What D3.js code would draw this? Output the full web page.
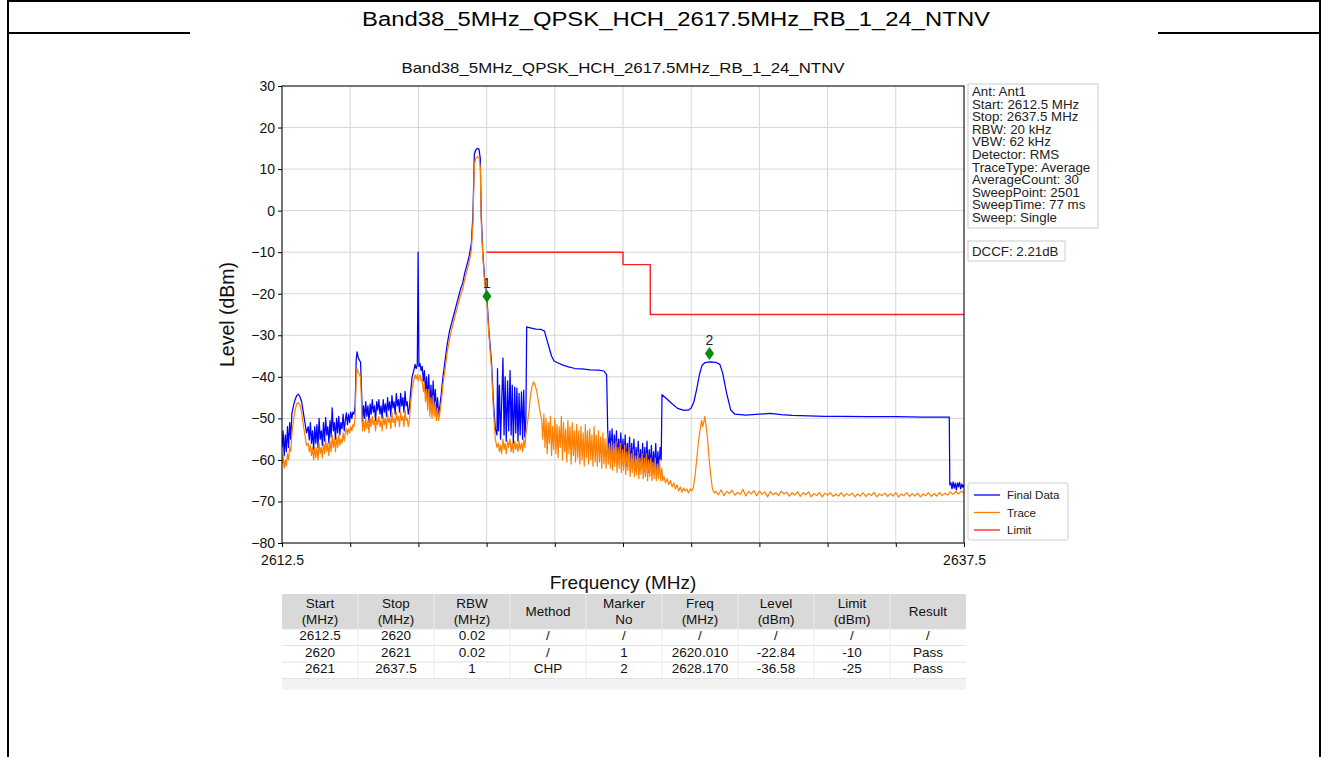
<!DOCTYPE html>
<html><head><meta charset="utf-8">
<script src="https://cdn.jsdelivr.net/npm/d3@7"></script>
<style>
body{margin:0;background:#fff;}
svg text{font-family:"Liberation Sans",Arial,Helvetica,sans-serif;}
</style></head>
<body>
<svg id="c" width="1329" height="757"></svg>
<script>
const pageTitle = "Band38_5MHz_QPSK_HCH_2617.5MHz_RB_1_24_NTNV";
const chartTitle = "Band38_5MHz_QPSK_HCH_2617.5MHz_RB_1_24_NTNV";
const xDomain = [2612.5, 2637.5];
const yDomain = [-80, 30];
const xTickValues = [2612.5,2615,2617.5,2620,2622.5,2625,2627.5,2630,2632.5,2635,2637.5];
const xTickLabels = ["2612.5","","","","","","","","","","2637.5"];
const yTickValues = [30,20,10,0,-10,-20,-30,-40,-50,-60,-70,-80];
const xLabel = "Frequency (MHz)";
const yLabel = "Level (dBm)";
const seriesNames = ["Final Data","Trace","Limit"];
const seriesColors = ["#0000ff","#ff8000","#ff2020"];
const infoLines = ["Ant: Ant1","Start: 2612.5 MHz","Stop: 2637.5 MHz","RBW: 20 kHz","VBW: 62 kHz","Detector: RMS","TraceType: Average","AverageCount: 30","SweepPoint: 2501","SweepTime: 77 ms","Sweep: Single"];
const dccfText = "DCCF: 2.21dB";
const dccf = 2.21;
const limitFreq = [2620, 2625, 2625, 2626, 2626, 2637.5];
const limitLevel = [-10, -10, -13, -13, -25, -25];
const markerNo = [1, 2];
const markerFreq = [2620.010, 2628.170];
const markerLevel = [-22.84, -36.58];
const tableHeader = [["Start","(MHz)"],["Stop","(MHz)"],["RBW","(MHz)"],["Method"],["Marker","No"],["Freq","(MHz)"],["Level","(dBm)"],["Limit","(dBm)"],["Result"]];
const tableRows = [
 ["2612.5","2620","0.02","/","/","/","/","/","/"],
 ["2620","2621","0.02","/","1","2620.010","-22.84","-10","Pass"],
 ["2621","2637.5","1","CHP","2","2628.170","-36.58","-25","Pass"]
];
const finalData = [
[2612.50,-57],[2612.54,-53],[2612.58,-59],[2612.62,-54],[2612.66,-58],[2612.70,-52],[2612.74,-57],[2612.78,-51],[2612.82,-55],[2612.86,-49],
[2612.92,-47],[2612.98,-45.5],[2613.04,-44.5],[2613.10,-44.2],[2613.16,-44.8],[2613.22,-46],[2613.28,-48.5],[2613.34,-51],[2613.40,-53.5],[2613.46,-52],
[2613.50,-55.2],[2613.54,-51],[2613.58,-56],[2613.62,-53],[2613.66,-57.5],[2613.70,-52],[2613.74,-56],[2613.78,-51.5],[2613.82,-57],[2613.86,-50],
[2613.90,-55],[2613.94,-53],[2613.98,-56.5],[2614.02,-51],[2614.06,-55.5],[2614.10,-49.8],[2614.14,-54],[2614.18,-52],[2614.22,-56],[2614.26,-50.5],
[2614.30,-54.5],[2614.34,-47.5],[2614.38,-53],[2614.42,-51],[2614.46,-55],[2614.50,-50],[2614.54,-53.5],[2614.58,-49.5],[2614.62,-54],[2614.66,-51],
[2614.70,-52.5],[2614.74,-49],[2614.78,-53],[2614.82,-50.5],[2614.86,-48.7],[2614.90,-51.5],[2614.94,-49],[2614.98,-51],[2615.02,-48.5],[2615.06,-50],
[2615.10,-48.5],[2615.14,-49],[2615.18,-47],[2615.22,-36],[2615.25,-34],[2615.30,-35.5],[2615.34,-36],[2615.38,-36.5],[2615.42,-44],[2615.45,-51],
[2615.49,-47],[2615.53,-50],[2615.57,-46],[2615.61,-49.5],[2615.65,-47],[2615.69,-51],[2615.73,-46.5],[2615.77,-49],[2615.81,-45.5],[2615.85,-48.5],
[2615.89,-47],[2615.93,-50.5],[2615.97,-46],[2616.01,-48],[2616.05,-45.5],[2616.09,-49],[2616.13,-47],[2616.17,-50],[2616.21,-45.5],[2616.25,-48.5],
[2616.29,-46.5],[2616.33,-49.5],[2616.37,-45],[2616.41,-48],[2616.45,-46],[2616.49,-49.5],[2616.53,-44.5],[2616.57,-47.5],[2616.61,-46],[2616.65,-49],
[2616.69,-44],[2616.73,-47],[2616.77,-45.5],[2616.81,-48.5],[2616.85,-44],[2616.89,-47],[2616.93,-45],[2616.97,-48.5],[2617.01,-43.5],[2617.05,-47],
[2617.09,-46],[2617.13,-49],[2617.17,-47.5],[2617.21,-44],[2617.27,-40],[2617.33,-38.5],[2617.38,-37],[2617.42,-38],[2617.46,-37],[2617.49,-10],
[2617.52,-37.5],[2617.56,-36.8],[2617.60,-38.5],[2617.64,-37.5],[2617.68,-41],[2617.72,-38.5],[2617.76,-44],[2617.80,-40],[2617.84,-46],[2617.88,-39.5],
[2617.92,-47.5],[2617.96,-42],[2618.00,-48.5],[2618.04,-41],[2618.08,-47],[2618.12,-43],[2618.16,-49.5],[2618.20,-45],[2618.24,-49],[2618.28,-47.5],
[2618.34,-44],[2618.40,-40],[2618.48,-36],[2618.56,-32],[2618.64,-29],[2618.72,-27],[2618.80,-25],[2618.88,-23],[2618.96,-21],[2619.04,-19],
[2619.12,-17.5],[2619.20,-15],[2619.28,-13],[2619.36,-11],[2619.44,-8],[2619.50,-1],[2619.55,13.5],[2619.60,14.6],[2619.66,15],[2619.72,14.8],
[2619.77,12.5],[2619.80,-0.5],[2619.86,-10],[2619.93,-16.5],[2620.01,-20.8],[2620.08,-28.5],[2620.18,-36.5],[2620.25,-46],[2620.32,-52.5],[2620.38,-54],
[2620.40,-38],[2620.43,-53],[2620.47,-42],[2620.51,-55],[2620.55,-47],[2620.60,-35.5],[2620.64,-54],[2620.68,-40],[2620.72,-55.5],[2620.77,-41],
[2620.81,-53],[2620.86,-38.5],[2620.90,-54],[2620.94,-42],[2620.98,-56],[2621.03,-42.5],[2621.07,-53.5],[2621.11,-42.7],[2621.15,-55.5],[2621.19,-44],
[2621.23,-54],[2621.28,-43.6],[2621.32,-55],[2621.36,-43.2],[2621.40,-54.5],[2621.44,-50],[2621.47,-28.0],[2621.60,-28.2],[2621.80,-28.5],[2622.00,-28.6],
[2622.12,-29],[2622.25,-32],[2622.38,-35],[2622.47,-36.2],[2622.60,-36.6],[2622.80,-37.2],[2623.00,-37.6],[2623.24,-38],[2623.50,-38.1],[2623.80,-38.3],
[2624.10,-38.4],[2624.30,-38.6],[2624.40,-39.5],[2624.44,-52.8],[2624.48,-58],[2624.52,-53],[2624.56,-59],[2624.60,-52.5],[2624.64,-60],[2624.68,-54],
[2624.72,-58.5],[2624.76,-53],[2624.80,-60.5],[2624.84,-55],[2624.88,-59],[2624.92,-53.5],[2624.96,-61],[2625.00,-55],[2625.04,-60],[2625.08,-54],
[2625.12,-61.5],[2625.16,-56],[2625.20,-60],[2625.24,-54.5],[2625.28,-62],[2625.32,-56],[2625.36,-61],[2625.40,-55],[2625.44,-62.5],[2625.48,-57],
[2625.52,-61],[2625.56,-55.5],[2625.60,-62.5],[2625.64,-57.5],[2625.68,-61.5],[2625.72,-56],[2625.76,-63],[2625.80,-57],[2625.84,-62],[2625.88,-55.5],
[2625.92,-63],[2625.96,-57.5],[2626.00,-62],[2626.04,-56.5],[2626.08,-63],[2626.12,-58],[2626.16,-62.5],[2626.20,-56],[2626.24,-63],[2626.28,-58],
[2626.32,-62.5],[2626.36,-57],[2626.40,-60],[2626.43,-44.3],[2626.60,-45.3],[2626.80,-46.5],[2627.00,-47.6],[2627.20,-48],[2627.40,-48],[2627.50,-47.5],
[2627.60,-46],[2627.70,-43],[2627.80,-39.5],[2627.90,-37.2],[2628.00,-36.6],[2628.20,-36.4],[2628.40,-36.5],[2628.55,-37],[2628.65,-39],[2628.80,-44],
[2628.95,-48],[2629.10,-49],[2629.50,-49.2],[2630.00,-49],[2630.40,-48.8],[2630.80,-49.1],[2631.20,-49.3],[2631.80,-49.4],[2632.40,-49.5],[2633.00,-49.5],
[2634.00,-49.6],[2635.00,-49.6],[2636.00,-49.7],[2636.96,-49.7],[2636.98,-66],[2637.02,-65.5],[2637.06,-67],[2637.10,-65.3],[2637.14,-66.8],[2637.18,-65.6],
[2637.22,-67.2],[2637.26,-65.5],[2637.30,-66.5],[2637.34,-65.4],[2637.38,-67],[2637.42,-65.8],[2637.46,-66.6],[2637.50,-66]
];
const traceData = [
[2612.50,-61],[2612.54,-59],[2612.58,-62],[2612.62,-60],[2612.66,-61.5],[2612.70,-58.5],[2612.74,-60],[2612.78,-57],[2612.82,-58],[2612.86,-54],
[2612.92,-50.5],[2612.98,-48],[2613.04,-46.5],[2613.10,-46.2],[2613.16,-46.8],[2613.22,-48.5],[2613.28,-51.5],[2613.34,-54],[2613.40,-56.5],[2613.46,-56],
[2613.50,-58],[2613.54,-56.5],[2613.58,-59],[2613.62,-57],[2613.66,-60],[2613.70,-57],[2613.74,-59.5],[2613.78,-57],[2613.82,-60],[2613.86,-56],
[2613.90,-58.5],[2613.94,-57],[2613.98,-59.5],[2614.02,-56],[2614.06,-58.5],[2614.10,-55],[2614.14,-58],[2614.18,-56],[2614.22,-59],[2614.26,-55.5],
[2614.30,-58],[2614.34,-54],[2614.38,-57],[2614.42,-55],[2614.46,-58],[2614.50,-54.5],[2614.54,-57],[2614.58,-54],[2614.62,-56.5],[2614.66,-55],
[2614.70,-56],[2614.74,-53.5],[2614.78,-55.5],[2614.82,-53.5],[2614.86,-52.5],[2614.90,-54],[2614.94,-52.5],[2614.98,-53.5],[2615.02,-52],[2615.06,-53],
[2615.10,-51.5],[2615.14,-52],[2615.18,-50],[2615.22,-40],[2615.25,-38],[2615.30,-39],[2615.34,-39.5],[2615.38,-40],[2615.42,-47],[2615.45,-53],
[2615.49,-50.5],[2615.53,-53],[2615.57,-50],[2615.61,-52.5],[2615.65,-50.5],[2615.69,-53.5],[2615.73,-50],[2615.77,-52],[2615.81,-49.5],[2615.85,-51.5],
[2615.89,-50.5],[2615.93,-53],[2615.97,-50],[2616.01,-51.5],[2616.05,-49.5],[2616.09,-52],[2616.13,-50.5],[2616.17,-53],[2616.21,-49.5],[2616.25,-51.5],
[2616.29,-50],[2616.33,-52.5],[2616.37,-49],[2616.41,-51],[2616.45,-50],[2616.49,-52.5],[2616.53,-48.5],[2616.57,-51],[2616.61,-50],[2616.65,-52],
[2616.69,-48.5],[2616.73,-50.5],[2616.77,-49.5],[2616.81,-52],[2616.85,-48.5],[2616.89,-50.5],[2616.93,-49.5],[2616.97,-52],[2617.01,-48],[2617.05,-50.5],
[2617.09,-50],[2617.13,-52],[2617.17,-50.5],[2617.21,-47],[2617.27,-43],[2617.33,-41],[2617.38,-39.5],[2617.42,-40.5],[2617.46,-39.5],[2617.49,-41],
[2617.52,-40],[2617.56,-39.5],[2617.60,-41],[2617.64,-40.5],[2617.68,-43.5],[2617.72,-41.5],[2617.76,-46],[2617.80,-43],[2617.84,-48],[2617.88,-43],
[2617.92,-49.5],[2617.96,-45],[2618.00,-50],[2618.04,-44.5],[2618.08,-49.5],[2618.12,-46],[2618.16,-50.5],[2618.20,-47.5],[2618.24,-50.5],[2618.28,-49],
[2618.34,-46],[2618.40,-42],[2618.48,-38],[2618.56,-34],[2618.64,-31],[2618.72,-28.5],[2618.80,-26.5],[2618.88,-24.5],[2618.96,-22.5],[2619.04,-20.5],
[2619.12,-19],[2619.20,-16.5],[2619.28,-14.5],[2619.36,-12.5],[2619.44,-9.5],[2619.50,-3],[2619.55,11],[2619.60,12.5],[2619.66,13],[2619.72,12.8],
[2619.77,10.5],[2619.80,-2],[2619.86,-11],[2619.93,-17.5],[2620.01,-21.8],[2620.08,-29.5],[2620.18,-38],[2620.25,-48],[2620.32,-55],[2620.38,-57],
[2620.43,-56],[2620.47,-58],[2620.51,-56.5],[2620.55,-58.5],[2620.60,-55],[2620.64,-57.5],[2620.68,-56],[2620.72,-58.5],[2620.77,-55.5],[2620.81,-57],
[2620.86,-55],[2620.90,-58],[2620.94,-56],[2620.98,-58.3],[2621.03,-55.5],[2621.07,-57.5],[2621.11,-56],[2621.15,-58],[2621.19,-55.5],[2621.23,-57.5],
[2621.28,-56],[2621.32,-58],[2621.36,-55],[2621.40,-57],[2621.44,-54],[2621.48,-52],[2621.52,-50],[2621.56,-48],[2621.60,-45],[2621.66,-42.5],
[2621.72,-41.2],[2621.78,-42],[2621.84,-43.5],[2621.90,-46],[2621.96,-48.5],[2622.02,-50.5],[2622.06,-55],[2622.10,-49],[2622.14,-57],[2622.18,-50],
[2622.22,-58.5],[2622.26,-51],[2622.30,-56],[2622.34,-49.5],[2622.38,-59],[2622.42,-52],[2622.46,-57.5],[2622.50,-50],[2622.54,-58.5],[2622.58,-51.5],
[2622.62,-59.5],[2622.66,-52],[2622.70,-57],[2622.74,-49.5],[2622.78,-60],[2622.82,-51],[2622.86,-58],[2622.90,-52.5],[2622.94,-60.5],[2622.98,-50.5],
[2623.02,-58.5],[2623.06,-52],[2623.10,-61],[2623.14,-51],[2623.18,-59],[2623.22,-53],[2623.26,-60.5],[2623.30,-51.5],[2623.34,-59.5],[2623.38,-53],
[2623.42,-61],[2623.46,-52],[2623.50,-60],[2623.54,-53.5],[2623.58,-61.5],[2623.62,-51.5],[2623.66,-59.5],[2623.70,-53],[2623.74,-61],[2623.78,-52.5],
[2623.82,-60],[2623.86,-54],[2623.90,-61.5],[2623.94,-52],[2623.98,-60.5],[2624.02,-54],[2624.06,-61.5],[2624.10,-53],[2624.14,-60.5],[2624.18,-54.5],
[2624.22,-62],[2624.26,-53.5],[2624.30,-61],[2624.34,-55],[2624.38,-62],[2624.42,-54.5],[2624.46,-61],[2624.50,-56],[2624.54,-62],[2624.58,-55.5],
[2624.62,-62.5],[2624.66,-56],[2624.70,-61.5],[2624.74,-55.5],[2624.78,-63],[2624.82,-57],[2624.86,-62],[2624.90,-56],[2624.94,-63],[2624.98,-57.5],
[2625.02,-62.5],[2625.06,-56.5],[2625.10,-63.5],[2625.14,-58],[2625.18,-62.5],[2625.22,-57],[2625.26,-64],[2625.30,-58.5],[2625.34,-63],[2625.38,-57.5],
[2625.42,-64],[2625.46,-59],[2625.50,-63.5],[2625.54,-58],[2625.58,-64.5],[2625.62,-59.5],[2625.66,-63.5],[2625.70,-58.5],[2625.74,-64.5],[2625.78,-59.5],
[2625.82,-64],[2625.86,-58.5],[2625.90,-65],[2625.94,-60],[2625.98,-64],[2626.02,-59.5],[2626.06,-65],[2626.10,-60.5],[2626.14,-64.5],[2626.18,-59.5],
[2626.22,-65],[2626.26,-61],[2626.30,-64.5],[2626.34,-60],[2626.38,-65],[2626.42,-62],[2626.46,-65],[2626.50,-64],[2626.56,-65.5],[2626.62,-64.5],
[2626.68,-66],[2626.74,-65],[2626.80,-66.5],[2626.86,-65.5],[2626.92,-67],[2626.98,-66],[2627.04,-67.5],[2627.10,-66.5],[2627.16,-67.8],[2627.22,-66.8],
[2627.28,-67.5],[2627.34,-67],[2627.40,-68],[2627.46,-67],[2627.52,-67.5],[2627.58,-66.5],[2627.64,-64],[2627.70,-60],[2627.76,-56],[2627.82,-53],
[2627.88,-50.5],[2627.92,-52],[2627.96,-51],[2628.00,-49.5],[2628.05,-52],[2628.10,-55],[2628.16,-60],[2628.22,-64],[2628.28,-67],[2628.34,-68],
[2628.40,-67.5],[2628.50,-68.4],[2628.60,-67.2],[2628.70,-68.6],[2628.80,-67.6],[2628.90,-68.1],[2629.00,-67.3],[2629.10,-68.5],[2629.20,-67.8],[2629.30,-68.3],
[2629.40,-67.1],[2629.50,-68.7],[2629.60,-67.6],[2629.70,-68.2],[2629.80,-67.4],[2629.90,-68.6],[2630.00,-67.5],[2630.10,-68.3],[2630.20,-67.7],[2630.30,-68.9],
[2630.40,-67.6],[2630.50,-68.4],[2630.60,-67.9],[2630.70,-68.6],[2630.80,-67.5],[2630.90,-68.2],[2631.00,-67.8],[2631.10,-68.7],[2631.20,-67.9],[2631.30,-68.5],
[2631.40,-67.6],[2631.50,-68.8],[2631.60,-67.9],[2631.70,-68.4],[2631.80,-67.7],[2631.90,-68.9],[2632.00,-68.1],[2632.10,-68.6],[2632.20,-67.8],[2632.30,-68.9],
[2632.40,-68.0],[2632.50,-68.5],[2632.60,-67.9],[2632.70,-68.8],[2632.80,-68.2],[2632.90,-68.7],[2633.00,-67.9],[2633.10,-68.8],[2633.20,-68.1],[2633.30,-68.6],
[2633.40,-68.0],[2633.50,-68.9],[2633.60,-68.2],[2633.70,-68.7],[2633.80,-67.9],[2633.90,-68.8],[2634.00,-68.1],[2634.10,-68.6],[2634.20,-67.8],[2634.30,-68.9],
[2634.40,-68.2],[2634.50,-68.6],[2634.60,-68.0],[2634.70,-68.8],[2634.80,-68.1],[2634.90,-68.7],[2635.00,-67.9],[2635.10,-68.9],[2635.20,-68.2],[2635.30,-68.6],
[2635.40,-67.9],[2635.50,-68.8],[2635.60,-68.1],[2635.70,-68.7],[2635.80,-68.0],[2635.90,-68.9],[2636.00,-68.2],[2636.10,-68.6],[2636.20,-67.9],[2636.30,-68.8],
[2636.40,-68.1],[2636.50,-68.7],[2636.60,-67.8],[2636.70,-68.6],[2636.80,-68.0],[2636.90,-68.5],[2637.00,-67.7],[2637.10,-68.3],[2637.20,-67.6],[2637.30,-68.2],
[2637.40,-67.5],[2637.50,-68.0]
];

const svg = d3.select("#c");
const FONT = '"Liberation Sans",Arial,Helvetica,sans-serif';

// page frame
svg.append("line").attr("x1",8).attr("x2",8).attr("y1",0).attr("y2",757).attr("stroke","#000").attr("stroke-width",2);
svg.append("line").attr("x1",1320).attr("x2",1320).attr("y1",0).attr("y2",757).attr("stroke","#000").attr("stroke-width",2);
svg.append("line").attr("x1",8).attr("x2",1320).attr("y1",1).attr("y2",1).attr("stroke","#000").attr("stroke-width",2);
svg.append("line").attr("x1",8).attr("x2",190).attr("y1",33).attr("y2",33).attr("stroke","#000").attr("stroke-width",2);
svg.append("line").attr("x1",1158).attr("x2",1320).attr("y1",33).attr("y2",33).attr("stroke","#000").attr("stroke-width",2);
svg.append("text").attr("x",676).attr("y",26).attr("text-anchor","middle").attr("font-size",20)
  .attr("textLength",628).attr("lengthAdjust","spacingAndGlyphs").text(pageTitle);

// chart
const L=282,R=964,T=86,B=543;
const x = d3.scaleLinear().domain(xDomain).range([L,R]);
const y = d3.scaleLinear().domain(yDomain).range([B,T]);

const grid = svg.append("g");
grid.selectAll("line.v").data(xTickValues).join("line")
  .attr("x1",d=>x(d)).attr("x2",d=>x(d)).attr("y1",T).attr("y2",B)
  .attr("stroke","#d6d6d6").attr("stroke-width",1);
grid.selectAll("line.h").data(yTickValues).join("line")
  .attr("x1",L).attr("x2",R).attr("y1",d=>y(d)).attr("y2",d=>y(d))
  .attr("stroke","#d6d6d6").attr("stroke-width",1);

svg.append("defs").append("clipPath").attr("id","clip").append("rect")
  .attr("x",L).attr("y",T).attr("width",R-L).attr("height",B-T);

const line = d3.line().x(d=>x(d[0])).y(d=>y(d[1]));
const plot = svg.append("g").attr("clip-path","url(#clip)");
plot.append("path").datum(finalData).attr("d",line).attr("fill","none")
  .attr("stroke",seriesColors[0]).attr("stroke-width",1.25).attr("stroke-linejoin","round");
plot.append("path").datum(traceData).attr("d",line).attr("fill","none")
  .attr("stroke",seriesColors[1]).attr("stroke-width",1.2).attr("stroke-linejoin","round");
const limitPts = limitFreq.map((f,i)=>[f,limitLevel[i]]);
plot.append("path").datum(limitPts).attr("d",line).attr("fill","none")
  .attr("stroke",seriesColors[2]).attr("stroke-width",1.4);

// markers
const mk = svg.append("g");
markerNo.forEach((n,i)=>{
  const mx = x(markerFreq[i]), my = y(markerLevel[i]+dccf);
  mk.append("path").attr("d",`M${mx},${my-6.5}L${mx+4.5},${my}L${mx},${my+6.5}L${mx-4.5},${my}Z`).attr("fill","#0a8a0a");
  mk.append("text").attr("x",mx).attr("y",my-8).attr("text-anchor","middle").attr("font-size",14).attr("fill","#222").text(n);
});

// frame
svg.append("rect").attr("x",L).attr("y",T).attr("width",R-L).attr("height",B-T).attr("fill","none").attr("stroke","#000").attr("stroke-width",1);

// axes
const xAxis = d3.axisBottom(x).tickValues(xTickValues).tickSize(4).tickPadding(8)
  .tickFormat((d,i)=>xTickLabels[i]);
const gx = svg.append("g").attr("transform",`translate(0,${B})`).call(xAxis);
const yAxis = d3.axisLeft(y).tickValues(yTickValues).tickSize(4).tickPadding(3);
const gy = svg.append("g").attr("transform",`translate(${L},0)`).call(yAxis);
[gx,gy].forEach(g=>{
  g.select(".domain").remove();
  g.selectAll("text").attr("font-family",FONT).attr("font-size",14).attr("fill","#111");
  g.selectAll("line").attr("stroke","#000");
});

svg.append("text").attr("x",(L+R)/2).attr("y",73).attr("text-anchor","middle").attr("font-size",15)
  .attr("textLength",443).attr("lengthAdjust","spacingAndGlyphs").attr("fill","#111").text(chartTitle);
svg.append("text").attr("x",(L+R)/2).attr("y",589).attr("text-anchor","middle").attr("font-size",19).attr("fill","#111").text(xLabel);
svg.append("text").attr("transform",`translate(234,${(T+B)/2}) rotate(-90)`).attr("text-anchor","middle").attr("font-size",19.5).attr("fill","#111").text(yLabel);

// info box
svg.append("rect").attr("x",968).attr("y",84).attr("width",130).attr("height",144).attr("fill","#fff").attr("stroke","#cccccc");
svg.append("g").selectAll("text").data(infoLines).join("text")
  .attr("x",972).attr("y",(d,i)=>96+i*12.6).attr("font-size",13.3).attr("fill","#222").text(d=>d);
svg.append("rect").attr("x",968).attr("y",241).attr("width",97).attr("height",20).attr("fill","#fff").attr("stroke","#cccccc");
svg.append("text").attr("x",972).attr("y",256).attr("font-size",13.3).attr("fill","#222").text(dccfText);

// legend
svg.append("rect").attr("x",968).attr("y",483).attr("width",100).attr("height",57).attr("rx",2).attr("fill","#fff").attr("stroke","#d0d0d0");
seriesNames.forEach((n,i)=>{
  const ly = 495 + i*17.5;
  svg.append("line").attr("x1",974).attr("x2",1000).attr("y1",ly).attr("y2",ly).attr("stroke",seriesColors[i]).attr("stroke-width",1.3);
  svg.append("text").attr("x",1007).attr("y",ly+4).attr("font-size",11.5).attr("fill","#222").text(n);
});

// table
const tX = 282, colW = 76, tY = 594;
const tb = svg.append("g");
tb.append("rect").attr("x",tX).attr("y",tY).attr("width",colW*9).attr("height",35).attr("fill","#d9d9d9");
tb.append("rect").attr("x",tX).attr("y",tY+35+3*16.5).attr("width",colW*9).attr("height",11).attr("fill","#f2f2f2");
for(let r=0;r<4;r++){
  tb.append("line").attr("x1",tX).attr("x2",tX+colW*9).attr("y1",tY+35+r*16.5).attr("y2",tY+35+r*16.5).attr("stroke","#e2e2e2");
}
for(let c=1;c<9;c++){
  tb.append("line").attr("x1",tX+c*colW).attr("x2",tX+c*colW).attr("y1",tY).attr("y2",tY+35+3*16.5).attr("stroke","#ececec");
}
tableHeader.forEach((h,c)=>{
  const cx = tX+colW*c+colW/2;
  if(h.length===2){
    tb.append("text").attr("x",cx).attr("y",tY+14).attr("text-anchor","middle").attr("font-size",13.5).attr("fill","#111").text(h[0]);
    tb.append("text").attr("x",cx).attr("y",tY+30).attr("text-anchor","middle").attr("font-size",13.5).attr("fill","#111").text(h[1]);
  } else {
    tb.append("text").attr("x",cx).attr("y",tY+22).attr("text-anchor","middle").attr("font-size",13.5).attr("fill","#111").text(h[0]);
  }
});
tableRows.forEach((row,r)=>{
  row.forEach((v,c)=>{
    tb.append("text").attr("x",tX+colW*c+colW/2).attr("y",tY+46+r*16.5).attr("text-anchor","middle").attr("font-size",13.5).attr("fill","#111").text(v);
  });
});
</script>
</body></html>
